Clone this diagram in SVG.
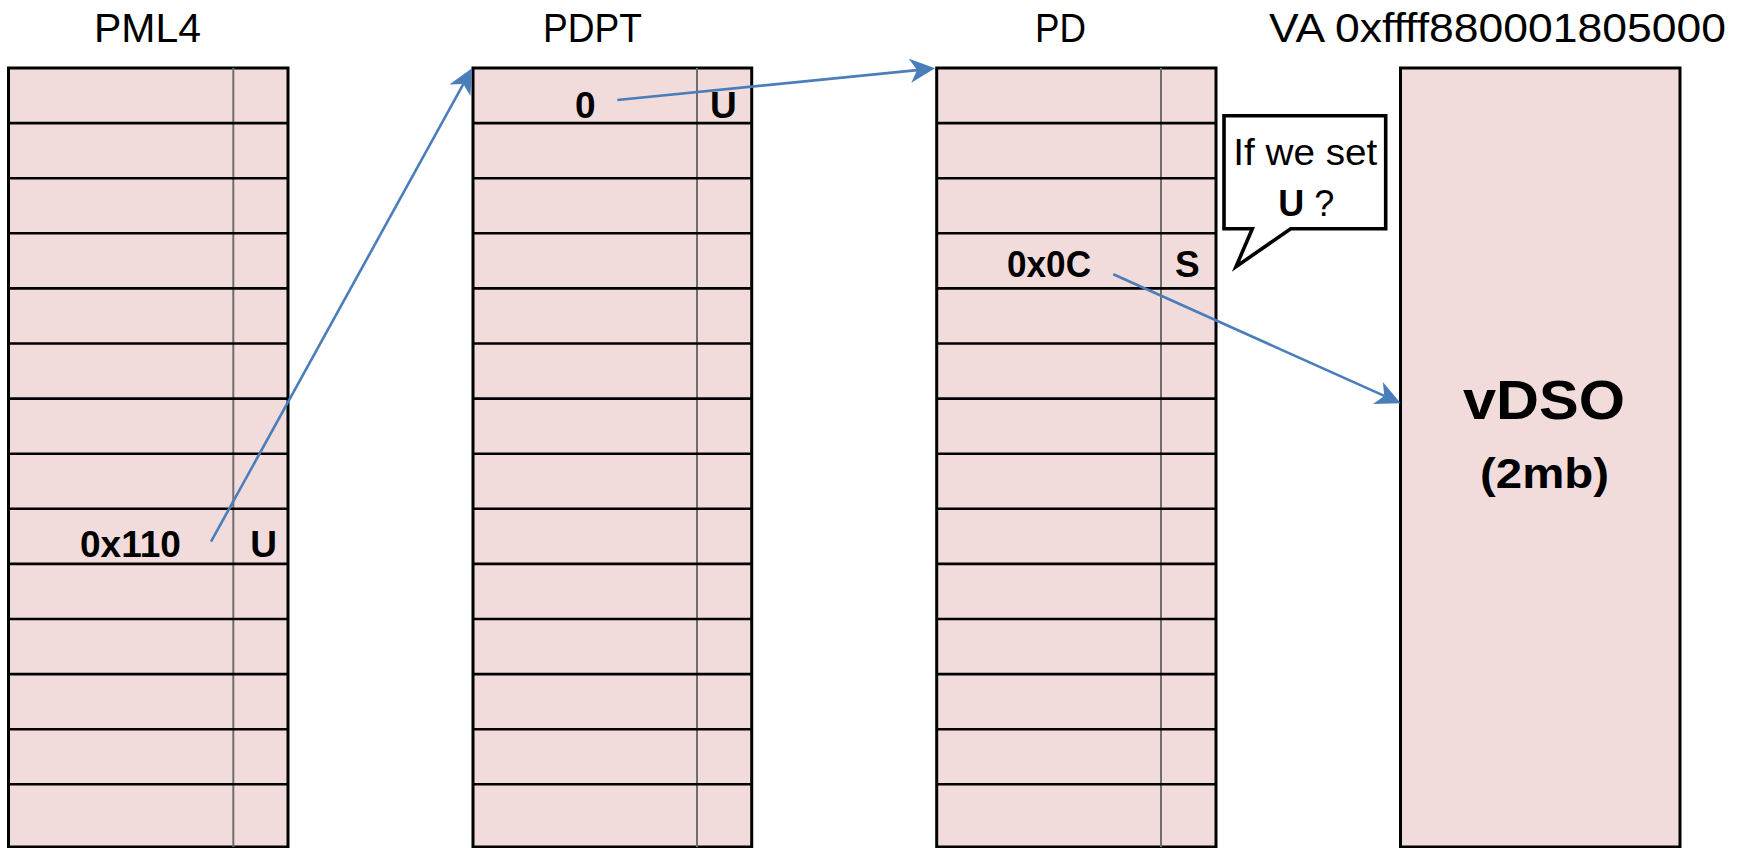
<svg xmlns="http://www.w3.org/2000/svg" width="1746" height="848" viewBox="0 0 1746 848">
  <style>
    .cell { fill: #f2dcdb; stroke: #000; stroke-width: 3; }
    .row { stroke: #000; stroke-width: 2.6; }
    .div { stroke: #6e6e6e; stroke-width: 2; }
    .hdr { font-family: "Liberation Sans", Arial, sans-serif; font-size: 41px; fill: #000; }
    .lbl { font-family: "Liberation Sans", Arial, sans-serif; font-size: 37px; font-weight: bold; fill: #000; }
    .note { font-family: "Liberation Sans", Arial, sans-serif; font-size: 36px; fill: #000; }
    .link { fill: none; stroke: #4a7ebb; stroke-width: 2.6; }
    .bubble { fill: #fff; stroke: #000; stroke-width: 3.6; stroke-linejoin: miter; }
  </style>
  <defs>
    <!-- notched arrowhead; refX sits on the notch so the shaft ends inside the head -->
    <marker id="head" markerUnits="userSpaceOnUse" viewBox="0 -13 26 26" markerWidth="26" markerHeight="26" refX="7" refY="0" orient="auto">
      <path d="M0,-12 L25,0 L0,12 L7,0 Z" fill="#4a7ebb"/>
    </marker>
  </defs>

  <!-- Headers -->
  <g id="headers">
    <text class="hdr" x="94" y="42" textLength="107" lengthAdjust="spacingAndGlyphs">PML4</text>
    <text class="hdr" x="543" y="42" textLength="99" lengthAdjust="spacingAndGlyphs">PDPT</text>
    <text class="hdr" x="1035" y="42" textLength="51" lengthAdjust="spacingAndGlyphs">PD</text>
    <text class="hdr" x="1269" y="42" textLength="457" lengthAdjust="spacingAndGlyphs">VA 0xffff880001805000</text>
  </g>

  <!-- PML4 table: 14 rows of 55.1px from y=68 -->
  <g id="pml4">
    <rect class="cell" x="8.5" y="68" width="279.5" height="779"/>
    <line class="div" x1="233.3" y1="68" x2="233.3" y2="847"/>
    <g class="row">
      <line x1="8.5" x2="288" y1="123.1" y2="123.1"/>
      <line x1="8.5" x2="288" y1="178.2" y2="178.2"/>
      <line x1="8.5" x2="288" y1="233.3" y2="233.3"/>
      <line x1="8.5" x2="288" y1="288.4" y2="288.4"/>
      <line x1="8.5" x2="288" y1="343.5" y2="343.5"/>
      <line x1="8.5" x2="288" y1="398.6" y2="398.6"/>
      <line x1="8.5" x2="288" y1="453.7" y2="453.7"/>
      <line x1="8.5" x2="288" y1="508.8" y2="508.8"/>
      <line x1="8.5" x2="288" y1="563.9" y2="563.9"/>
      <line x1="8.5" x2="288" y1="619.0" y2="619.0"/>
      <line x1="8.5" x2="288" y1="674.1" y2="674.1"/>
      <line x1="8.5" x2="288" y1="729.2" y2="729.2"/>
      <line x1="8.5" x2="288" y1="784.3" y2="784.3"/>
    </g>
    <text class="lbl" x="80" y="557">0x110</text>
    <text class="lbl" x="263.7" y="557" text-anchor="middle">U</text>
  </g>

  <!-- PDPT table -->
  <g id="pdpt">
    <rect class="cell" x="473" y="68" width="278.7" height="779"/>
    <line class="div" x1="697" y1="68" x2="697" y2="847"/>
    <g class="row">
      <line x1="473" x2="751.7" y1="123.1" y2="123.1"/>
      <line x1="473" x2="751.7" y1="178.2" y2="178.2"/>
      <line x1="473" x2="751.7" y1="233.3" y2="233.3"/>
      <line x1="473" x2="751.7" y1="288.4" y2="288.4"/>
      <line x1="473" x2="751.7" y1="343.5" y2="343.5"/>
      <line x1="473" x2="751.7" y1="398.6" y2="398.6"/>
      <line x1="473" x2="751.7" y1="453.7" y2="453.7"/>
      <line x1="473" x2="751.7" y1="508.8" y2="508.8"/>
      <line x1="473" x2="751.7" y1="563.9" y2="563.9"/>
      <line x1="473" x2="751.7" y1="619.0" y2="619.0"/>
      <line x1="473" x2="751.7" y1="674.1" y2="674.1"/>
      <line x1="473" x2="751.7" y1="729.2" y2="729.2"/>
      <line x1="473" x2="751.7" y1="784.3" y2="784.3"/>
    </g>
    <text class="lbl" x="575" y="118">0</text>
    <text class="lbl" x="723.3" y="118" text-anchor="middle">U</text>
  </g>

  <!-- PD table -->
  <g id="pd">
    <rect class="cell" x="936.7" y="68" width="279.3" height="779"/>
    <line class="div" x1="1161" y1="68" x2="1161" y2="847"/>
    <g class="row">
      <line x1="936.7" x2="1216" y1="123.1" y2="123.1"/>
      <line x1="936.7" x2="1216" y1="178.2" y2="178.2"/>
      <line x1="936.7" x2="1216" y1="233.3" y2="233.3"/>
      <line x1="936.7" x2="1216" y1="288.4" y2="288.4"/>
      <line x1="936.7" x2="1216" y1="343.5" y2="343.5"/>
      <line x1="936.7" x2="1216" y1="398.6" y2="398.6"/>
      <line x1="936.7" x2="1216" y1="453.7" y2="453.7"/>
      <line x1="936.7" x2="1216" y1="508.8" y2="508.8"/>
      <line x1="936.7" x2="1216" y1="563.9" y2="563.9"/>
      <line x1="936.7" x2="1216" y1="619.0" y2="619.0"/>
      <line x1="936.7" x2="1216" y1="674.1" y2="674.1"/>
      <line x1="936.7" x2="1216" y1="729.2" y2="729.2"/>
      <line x1="936.7" x2="1216" y1="784.3" y2="784.3"/>
    </g>
    <text class="lbl" x="1007" y="276.5" textLength="84" lengthAdjust="spacingAndGlyphs">0x0C</text>
    <text class="lbl" x="1187.4" y="276.5" text-anchor="middle">S</text>
  </g>

  <!-- Question bubble -->
  <g id="callout">
    <path class="bubble" d="M1224,115.7 H1385.7 V228.7 H1290.7 L1236,266.7 L1252.3,228.7 H1224 Z"/>
    <text class="note" x="1233.3" y="165" textLength="144" lengthAdjust="spacingAndGlyphs">If we set</text>
    <text class="note" x="1278.3" y="216"><tspan font-weight="bold">U</tspan> ?</text>
  </g>

  <!-- vDSO page -->
  <g id="vdso">
    <rect class="cell" x="1400.5" y="68" width="279.5" height="779"/>
    <text class="lbl" x="1544" y="419.3" text-anchor="middle" style="font-size:55px" textLength="162" lengthAdjust="spacingAndGlyphs">vDSO</text>
    <text class="lbl" x="1544.5" y="488.3" text-anchor="middle" style="font-size:42px" textLength="129" lengthAdjust="spacingAndGlyphs">(2mb)</text>
  </g>

  <!-- Pointers between levels -->
  <g id="connectors">
    <line class="link" x1="211" y1="541.7" x2="463.3" y2="84.1" marker-end="url(#head)"/>
    <line class="link" x1="617.3" y1="100" x2="917.1" y2="70.1" marker-end="url(#head)"/>
    <line class="link" x1="1113.3" y1="274.3" x2="1384.3" y2="395.9" marker-end="url(#head)"/>
  </g>
</svg>
